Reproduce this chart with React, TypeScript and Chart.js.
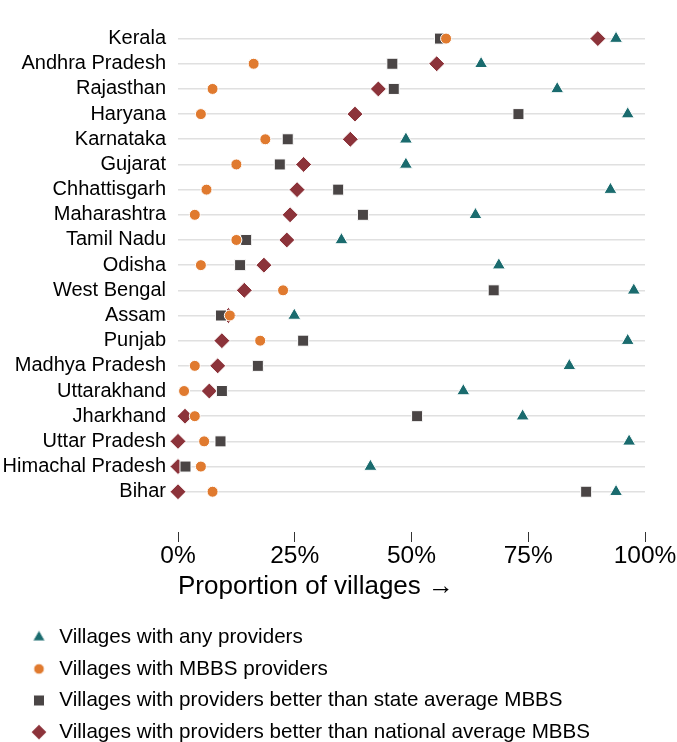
import React, { useEffect, useRef } from 'react';
import { Chart, registerables } from 'chart.js';
import { drawPoint } from 'chart.js/helpers';

Chart.register(...registerables);

const states = [
  'Kerala', 'Andhra Pradesh', 'Rajasthan', 'Haryana', 'Karnataka', 'Gujarat',
  'Chhattisgarh', 'Maharashtra', 'Tamil Nadu', 'Odisha', 'West Bengal', 'Assam',
  'Punjab', 'Madhya Pradesh', 'Uttarakhand', 'Jharkhand', 'Uttar Pradesh',
  'Himachal Pradesh', 'Bihar',
];
const anyProviders = [93.8, 64.9, 81.2, 96.3, 48.8, 48.8, 92.6, 63.7, 35.0, 68.7, 97.6, 24.9, 96.3, 83.8, 61.1, 73.8, 96.6, 41.2, 93.8];
const mbbsProviders = [57.4, 16.2, 7.4, 4.9, 18.7, 12.5, 6.1, 3.6, 12.5, 4.9, 22.5, 11.1, 17.6, 3.6, 1.3, 3.6, 5.6, 4.9, 7.4];
const betterThanState = [56.1, 45.9, 46.2, 72.9, 23.5, 21.8, 34.3, 39.6, 14.6, 13.3, 67.6, 9.2, 26.8, 17.1, 9.4, 51.2, 9.1, 1.6, 87.4];
const betterThanNational = [89.9, 55.4, 42.9, 37.9, 36.9, 26.9, 25.5, 24.0, 23.3, 18.4, 14.2, 10.8, 9.4, 8.5, 6.7, 1.5, 0.0, 0.0, 0.0];
const xTicks = [0, 25, 50, 75, 100];
const seriesLabels = [
  'Villages with any providers',
  'Villages with MBBS providers',
  'Villages with providers better than state average MBBS',
  'Villages with providers better than national average MBBS',
];
const xTitle = 'Proportion of villages \u2192';

const FONT = "'Liberation Sans', Arial, Helvetica, sans-serif";
const COLORS = ['#1a6b6e', '#e07a2f', '#4a4545', '#8c333a'];
const STYLES = ['triangle', 'circle', 'rect', 'rectRot'];
const RADII = [7.5, 5.5, 7.8, 8];
const LEGEND_RADII = [7.2, 5.3, 7.8, 7.8];
const W = 677;
const H = 742;
const LEGEND_H = 136;

function markerCanvas(style: string, radius: number, color: string) {
  const size = Math.ceil(radius * 2 + 4);
  const c = document.createElement('canvas');
  c.width = size;
  c.height = size;
  const ctx = c.getContext('2d')!;
  ctx.fillStyle = color;
  ctx.strokeStyle = '#ffffff';
  ctx.lineWidth = 1;
  drawPoint(ctx, { pointStyle: style as any, radius, rotation: 0, borderWidth: 1 } as any, size / 2, size / 2);
  return c;
}

const legendLayout = {
  id: 'legendLayout',
  beforeLayout(chart: any) {
    const lg = chart.legend;
    if (lg && !lg.__patched) {
      const orig = lg.fit.bind(lg);
      lg.fit = () => {
        orig();
        lg.height = LEGEND_H;
      };
      lg.__patched = true;
    }
  },
  afterLayout(chart: any) {
    const lg = chart.legend;
    if (!lg) return;
    lg.left = 18;
    lg.right = 620;
    lg.width = lg.right - lg.left;
    lg.top = 616;
    lg.bottom = H;
    lg.height = lg.bottom - lg.top;
  },
};

export default function App() {
  const ref = useRef<HTMLCanvasElement | null>(null);

  useEffect(() => {
    if (!ref.current) return;
    const series = [anyProviders, mbbsProviders, betterThanState, betterThanNational];
    const legendMarkers = series.map((_, i) => markerCanvas(STYLES[i], LEGEND_RADII[i], COLORS[i]));

    const chart = new Chart(ref.current, {
      type: 'scatter',
      data: {
        datasets: series.map((vals, i) => ({
          label: seriesLabels[i],
          data: states.map((_, j) => ({ x: vals[j], y: j })),
          pointStyle: STYLES[i] as any,
          pointRadius: RADII[i],
          pointHoverRadius: RADII[i],
          backgroundColor: COLORS[i],
          pointBackgroundColor: COLORS[i],
          borderColor: '#ffffff',
          pointBorderColor: '#ffffff',
          pointBorderWidth: 1,
          clip: false as any,
        })),
      },
      options: {
        animation: false,
        responsive: false,
        devicePixelRatio: 1,
        events: [],
        layout: { padding: { left: 0, right: 32, top: 26, bottom: 0 } },
        scales: {
          x: {
            type: 'linear',
            position: 'bottom',
            min: 0,
            max: 100,
            afterBuildTicks: (scale: any) => {
              scale.ticks = xTicks.map((v) => ({ value: v }));
            },
            afterFit: (scale: any) => {
              scale.height = 74;
            },
            border: { display: false },
            grid: {
              drawOnChartArea: false,
              drawTicks: true,
              tickLength: 10,
              color: '#333333',
              lineWidth: 1,
            },
            ticks: {
              padding: 0,
              color: '#000000',
              font: { family: FONT, size: 24.5 },
              maxRotation: 0,
              autoSkip: false,
              callback: (v: any) => `${v}%`,
            },
            title: {
              display: true,
              text: xTitle,
              align: 'start',
              color: '#000000',
              font: { family: FONT, size: 26 },
              padding: { top: 0, bottom: 4 },
            },
          },
          y: {
            type: 'linear',
            reverse: true,
            min: -0.5,
            max: 19.6,
            afterBuildTicks: (scale: any) => {
              scale.ticks = states.map((_, i) => ({ value: i }));
            },
            afterFit: (scale: any) => {
              scale.width = 178;
            },
            border: { display: false },
            grid: {
              drawTicks: false,
              color: '#e0e0e0',
              lineWidth: 1.6,
            },
            ticks: {
              padding: 12,
              autoSkip: false,
              color: '#000000',
              font: { family: FONT, size: 20 },
              callback: (v: any) => states[v as number] ?? '',
            },
          },
        },
        plugins: {
          tooltip: { enabled: false },
          title: { display: false },
          legend: {
            display: true,
            position: 'bottom',
            align: 'start',
            labels: {
              usePointStyle: true,
              boxWidth: 20,
              boxHeight: 10,
              padding: 11,
              color: '#000000',
              font: { family: FONT, size: 20.6 },
              generateLabels: (c: any) => {
                const items = (Chart.defaults.plugins.legend.labels as any).generateLabels(c);
                return items.map((it: any, i: number) => ({ ...it, pointStyle: legendMarkers[i] }));
              },
            },
          },
        },
      } as any,
      plugins: [legendLayout as any],
    });
    return () => chart.destroy();
  }, []);

  return (
    <div style={{ position: 'absolute', left: 0, top: 0, width: W, height: H, background: '#ffffff' }}>
      <canvas ref={ref} width={W} height={H} style={{ display: 'block', width: W, height: H }} />
    </div>
  );
}
